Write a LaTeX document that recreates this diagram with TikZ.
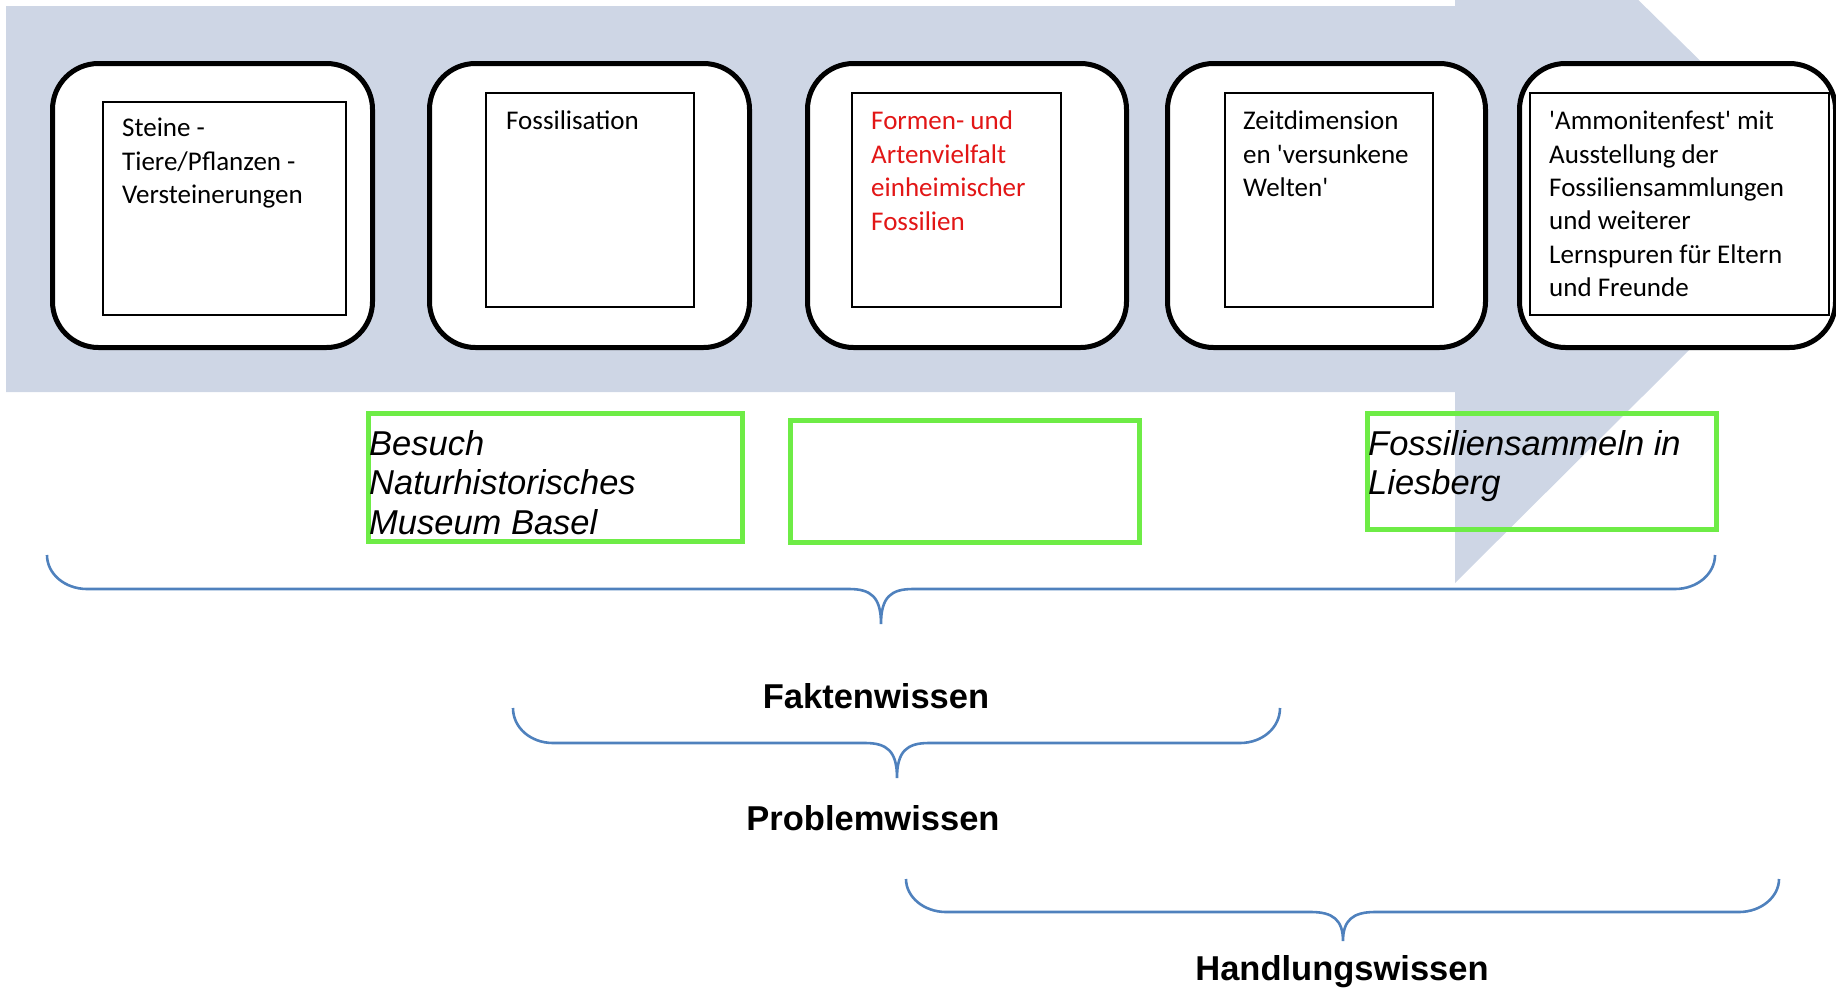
\documentclass[tikz,border=0pt]{standalone}
\usepackage{fontspec}
\setmainfont{Carlito}
\newfontfamily\arialf{Liberation Sans}
\definecolor{arrowbg}{RGB}{206,214,229}
\definecolor{bracecol}{RGB}{79,129,189}
\definecolor{greenbox}{RGB}{110,236,70}
\definecolor{redtext}{RGB}{226,22,22}
\newcommand\mybrace[6]{%
  \draw[bracestyle] (#1,#3) .. controls (#1,#4-15) and (#1+18,#4) .. (#1+40,#4)
    -- (#5-32,#4) .. controls (#5-10,#4) and (#5,#4+8) .. (#5,#6)
    .. controls (#5,#4+8) and (#5+10,#4) .. (#5+32,#4)
    -- (#2-40,#4) .. controls (#2-18,#4) and (#2,#4-15) .. (#2,#3);}
\begin{document}
\begin{tikzpicture}[x=1pt,y=-1pt,
  stage/.style={draw=black, line width=5pt, rounded corners=46pt, fill=white, inner sep=0pt},
  inbox/.style={draw=black, line width=2pt, fill=white, inner sep=0pt},
  intext/.style={anchor=north west, inner sep=0pt, align=left, font=\fontsize{27}{33.4}\selectfont},
  gbox/.style={draw=greenbox, line width=5pt, inner sep=0pt},
  gtext/.style={anchor=north west, inner sep=0pt, align=left, font=\arialf\itshape\fontsize{34.5}{39.5}\selectfont},
  bracestyle/.style={draw=bracecol, line width=2.6pt},
  blabel/.style={inner sep=0pt, anchor=base, font=\arialf\bfseries\fontsize{34.5}{40}\selectfont}
]
\useasboundingbox (0,0) rectangle (1836,991);
\begin{scope}
  \clip (0,0) rectangle (1836,991);
  \fill[arrowbg] (6,6) -- (1455,6) -- (1455,-180) -- (1841,199) -- (1455,583) -- (1455,392) -- (6,392) -- cycle;
\end{scope}
% stage boxes
\node[stage, anchor=north west, minimum width=320pt, minimum height=284pt] (s1) at (50,61) {};
\node[stage, anchor=north west, minimum width=320pt, minimum height=284pt] (s2) at (427,61) {};
\node[stage, anchor=north west, minimum width=319pt, minimum height=284pt] (s3) at (805,61) {};
\node[stage, anchor=north west, minimum width=318pt, minimum height=284pt] (s4) at (1165,61) {};
\node[stage, anchor=north west, minimum width=316pt, minimum height=284pt] (s5) at (1517,61) {};
% inner boxes
\node[inbox, anchor=north west, minimum width=243pt, minimum height=213pt] (i1) at (102,101) {};
\node[inbox, anchor=north west, minimum width=208pt, minimum height=214pt] (i2) at (485,92) {};
\node[inbox, anchor=north west, minimum width=209pt, minimum height=214pt] (i3) at (851,92) {};
\node[inbox, anchor=north west, minimum width=208pt, minimum height=214pt] (i4) at (1224,92) {};
\node[inbox, anchor=north west, minimum width=299pt, minimum height=222pt] (i5) at (1529,92) {};
% texts
\node[intext] (t1) at (122,118) {Steine -\\Tiere/Pflanzen -\\Versteinerungen};
\node[intext] (t2) at (506,111) {Fossilisation};
\node[intext, text=redtext] (t3) at (871,111) {Formen- und\\Artenvielfalt\\einheimischer\\Fossilien};
\node[intext] (t4) at (1243,111) {Zeitdimension\\en \textquotesingle versunkene\\Welten\textquotesingle};
\node[intext] (t5) at (1549,111) {\textquotesingle Ammonitenfest\textquotesingle{} mit\\Ausstellung der\\Fossiliensammlungen\\und weiterer\\Lernspuren für Eltern\\und Freunde};
% green boxes
\node[gbox, anchor=north west, minimum width=374pt, minimum height=128pt] (g1) at (366,411) {};
\node[gbox, anchor=north west, minimum width=349pt, minimum height=122pt] (g2) at (788,418) {};
\node[gbox, anchor=north west, minimum width=349pt, minimum height=116pt] (g3) at (1365,411) {};
\node[gtext] (gt1) at (369,430) {Besuch\\Naturhistorisches\\Museum Basel};
\node[gtext] (gt3) at (1368,430) {Fossiliensammeln in\\Liesberg};
% braces
\mybrace{47}{1715}{555}{589}{881}{624}
\mybrace{513}{1280}{708}{743}{897}{778}
\mybrace{906}{1779}{879}{912}{1343}{941}
% labels
\node[blabel] (l1) at (876,708) {Faktenwissen};
\node[blabel] (l2) at (873,830) {Problemwissen};
\node[blabel] (l3) at (1342,980) {Handlungswissen};
\end{tikzpicture}
\end{document}
